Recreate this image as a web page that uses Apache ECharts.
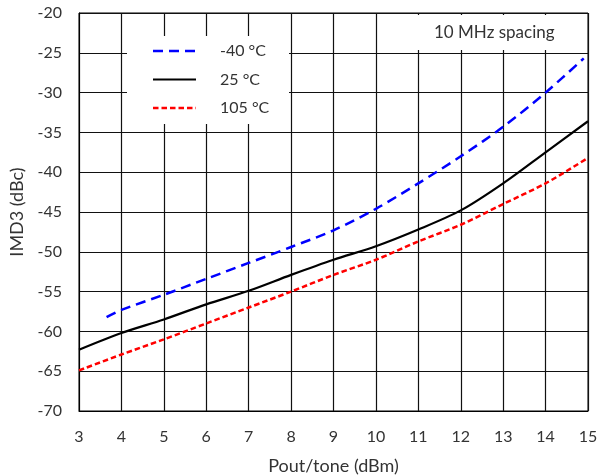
<!DOCTYPE html>
<html>
<head>
<meta charset="utf-8">
<script src="https://cdn.jsdelivr.net/npm/echarts@6/dist/echarts.min.js"></script>
<style>
  html, body { margin: 0; padding: 0; background: #fff; }
  #chart { width: 608px; height: 476px; }
</style>
</head>
<body>
<div id="chart"></div>
<script>
// IMD3 vs output power per tone, three temperatures
var seriesNames = ['-40 °C', '25 °C', '105 °C'];

var pColdX = [3.65, 4, 5, 6, 7, 8, 9, 10, 11, 12, 13, 14, 14.9];
var imdCold = [-58.2, -57.3, -55.4, -53.4, -51.4, -49.4, -47.3, -44.6, -41.4, -38.0, -34.3, -30.0, -25.7];

var pRoomX = [3, 4, 5, 6, 7, 8, 9, 10, 11, 12, 13, 14, 15];
var imdRoom = [-62.3, -60.2, -58.5, -56.6, -54.9, -52.9, -51.0, -49.3, -47.2, -44.8, -41.4, -37.5, -33.6];

var pHotX = [3, 4, 5, 6, 7, 8, 9, 10, 11, 12, 13, 14, 15];
var imdHot = [-64.9, -62.9, -61.0, -59.0, -57.0, -55.0, -52.9, -51.0, -48.7, -46.6, -44.0, -41.4, -38.2];

var xTicks = { min: 3, max: 15, step: 1 };
var yTicks = { min: -70, max: -20, step: 5 };

function pairs(xs, ys) {
  return xs.map(function (x, i) { return [x, ys[i]]; });
}

var FONT = 'Lato';
var TXT = '#333';
var COLORS = ['#0000ff', '#000000', '#ff0000'];
var DASHES = [[10, 6], null, [5.5, 3]];
var WIDTHS = [2.5, 2.2, 2.5];
var ZTOP = 100;

// legend box drawn as graphics so the dash patterns show exactly
var legendChildren = [
  { type: 'rect', z: ZTOP, shape: { x: 0, y: 0, width: 162, height: 88 }, style: { fill: '#fff' } }
];
seriesNames.forEach(function (name, i) {
  var y = 15 + i * 28.5;
  legendChildren.push({
    type: 'line', z: ZTOP + 1,
    shape: { x1: 26, y1: y, x2: 69, y2: y },
    style: { stroke: COLORS[i], lineWidth: WIDTHS[i], lineDash: DASHES[i] }
  });
  legendChildren.push({
    type: 'text', z: ZTOP + 1, x: 93, y: y,
    style: { text: name, font: '16px Lato', fill: TXT, textVerticalAlign: 'middle' }
  });
});

var chart = echarts.init(document.getElementById('chart'), null, { renderer: 'canvas' });

chart.setOption({
  animation: false,
  textStyle: { fontFamily: FONT },
  grid: {
    left: 79, top: 13, right: 20, bottom: 65,
    outerBoundsMode: 'none', containLabel: false,
    show: true, borderColor: '#000', borderWidth: 1
  },
  xAxis: {
    type: 'value',
    min: xTicks.min, max: xTicks.max, interval: xTicks.step,
    name: 'Pout/tone (dBm)',
    nameLocation: 'middle', nameGap: 46,
    nameTextStyle: { fontFamily: FONT, fontSize: 18, color: TXT },
    axisLine: { lineStyle: { color: '#000', width: 1 } },
    axisTick: { show: false },
    axisLabel: { fontFamily: FONT, fontSize: 16, color: TXT, margin: 18 },
    splitLine: { show: true, lineStyle: { color: '#111', width: 1.2 } }
  },
  yAxis: {
    type: 'value',
    min: yTicks.min, max: yTicks.max, interval: yTicks.step,
    name: 'IMD3 (dBc)',
    nameLocation: 'middle', nameGap: 47, nameRotate: 90,
    nameTextStyle: { fontFamily: FONT, fontSize: 18, color: TXT },
    axisLine: { show: true, lineStyle: { color: '#000', width: 1 } },
    axisTick: { show: false },
    axisLabel: { fontFamily: FONT, fontSize: 16, color: TXT, margin: 17 },
    splitLine: { show: true, lineStyle: { color: '#111', width: 1.2 } }
  },
  graphic: [
    { type: 'group', left: 127, top: 36, z: ZTOP, children: legendChildren },
    {
      type: 'group', left: 400, top: 15, z: ZTOP,
      children: [
        { type: 'rect', z: ZTOP, shape: { x: 0, y: 0, width: 182, height: 35 }, style: { fill: '#fff' } },
        { type: 'text', z: ZTOP + 1, x: 34, y: 18, style: { text: '10 MHz spacing', font: '17px Lato', fill: TXT, textVerticalAlign: 'middle' } }
      ]
    }
  ],
  series: seriesNames.map(function (name, i) {
    var xs = [pColdX, pRoomX, pHotX][i];
    var ys = [imdCold, imdRoom, imdHot][i];
    return {
      name: name, type: 'line', data: pairs(xs, ys),
      symbol: 'none', smooth: 0.3,
      lineStyle: { color: COLORS[i], width: WIDTHS[i], type: DASHES[i] || 'solid' },
      itemStyle: { color: COLORS[i] }
    };
  })
});
</script>
</body>
</html>
